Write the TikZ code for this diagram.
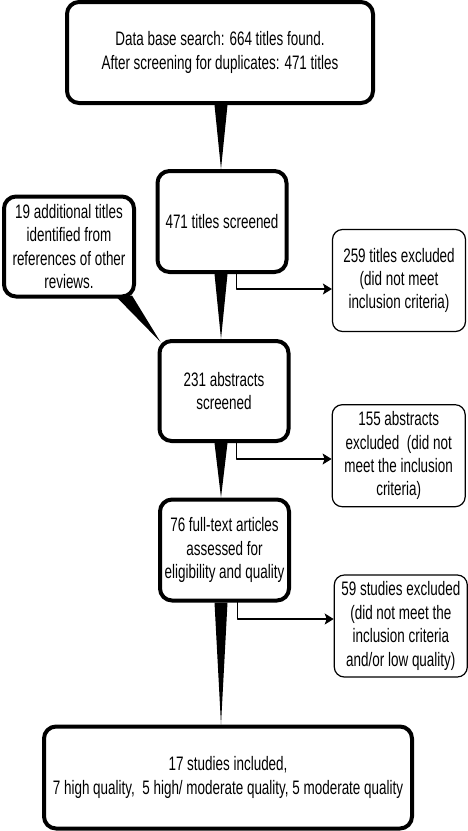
\documentclass[tikz,border=0pt]{standalone}
\usepackage{fontspec}
\setmainfont{Liberation Sans}
\newfontfamily\flowfont[FakeStretch=0.69]{Liberation Sans}
\usetikzlibrary{arrows.meta,calc}
\tikzset{
  stage box/.style={draw,line width=4pt,rounded corners=12pt,fill=white,align=center,
    minimum width=129pt,minimum height=101pt,inner sep=2pt},
  exclude box/.style={draw,line width=1.2pt,rounded corners=10pt,fill=white,align=center,
    minimum width=133pt,minimum height=102pt,inner sep=2pt},
  flow arrow/.style={line width=1.2pt,-{Stealth[length=9pt,width=11pt,inset=2pt]}}
}
\newcommand{\FlowWedge}[2]{\fill ($(spine |- #1.south)+(-6.5,0)$) -- ($(spine |- #1.south)+(6.5,0)$) -- (spine |- #2.north) -- cycle;}

\begin{document}
\begin{tikzpicture}[x=1pt,y=-1pt,line cap=round,line join=round,
  every node/.style={font=\flowfont\fontsize{19.5}{23.4}\selectfont}]
  \useasboundingbox (0,0) rectangle (468,831);
  \coordinate (spine) at (221,0);
  \coordinate (ka) at (236.7,289);
  \coordinate (kb) at (236.5,459);
  \coordinate (kc) at (237.7,619);

  \node[stage box,minimum width=306pt] (s1) at (220,52.5)
    {Data base search: 664 titles found.\\After screening for duplicates: 471 titles};
  \node[stage box] (s2) at (222,221.5) {471 titles screened};
  \node[stage box,minimum width=130pt,minimum height=100pt] (add) at (69,246.5)
    {19 additional titles\\identified from\\references of other\\reviews.};
  \node[stage box,minimum height=100pt] (s3) at (224,391) {231 abstracts\\screened};
  \node[stage box] (s4) at (224.5,550)
    {76 full-text articles\\assessed for\\eligibility and quality};
  \node[stage box,minimum width=368pt,minimum height=102pt] (s5) at (228,777.5)
    {17 studies included,\\7 high quality,\ \ 5 high/ moderate quality, 5 moderate quality};

  \node[exclude box] (ex1) at (399,280.5)
    {259 titles excluded\\(did not meet\\inclusion criteria)};
  \node[exclude box] (ex2) at (398.7,455.7)
    {155 abstracts\\excluded\ \ (did not\\meet the inclusion\\criteria)};
  \node[exclude box] (ex3) at (400.8,626)
    {59 studies excluded\\(did not meet the\\inclusion criteria\\and/or low quality)};

  \FlowWedge{s1}{s2}
  \FlowWedge{s2}{s3}
  \FlowWedge{s3}{s4}
  \FlowWedge{s4}{s5}
  \fill ($(add.south east)+(-21,-3)$) -- ($(add.south east)+(-4,-3)$)
    -- ($(s3.north west)+(3,3)$) -- cycle;

  \draw[flow arrow] (ka |- s2.south) -- (ka) -- (ka -| ex1.west);
  \draw[flow arrow] (kb |- s3.south) -- (kb) -- (kb -| ex2.west);
  \draw[flow arrow] (kc |- s4.south) -- (kc) -- (kc -| ex3.west);
\end{tikzpicture}
\end{document}
